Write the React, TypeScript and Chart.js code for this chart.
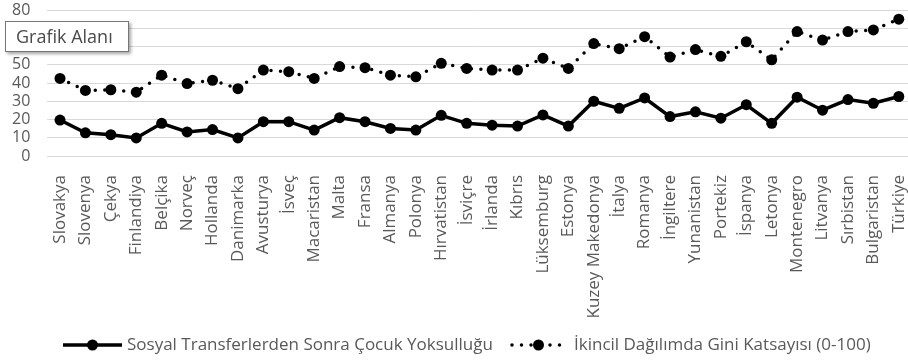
import React, { useEffect, useRef } from "react";
import { Chart, registerables } from "chart.js";

Chart.register(...registerables);

const countries = [
  "Slovakya", "Slovenya", "Çekya", "Finlandiya", "Belçika", "Norveç", "Hollanda",
  "Danimarka", "Avusturya", "İsveç", "Macaristan", "Malta", "Fransa", "Almanya",
  "Polonya", "Hırvatistan", "İsviçre", "İrlanda", "Kıbrıs", "Lüksemburg", "Estonya",
  "Kuzey Makedonya", "İtalya", "Romanya", "İngiltere", "Yunanistan", "Portekiz",
  "İspanya", "Letonya", "Montenegro", "Litvanya", "Sırbistan", "Bulgaristan", "Türkiye",
];

const childPoverty = [
  19.7, 12.7, 11.7, 9.9, 17.9, 13.2, 14.5, 9.9, 18.8, 18.8, 14.2, 21.0, 18.8, 15.1,
  14.2, 22.3, 17.9, 16.9, 16.4, 22.5, 16.4, 30.0, 26.1, 31.8, 21.6, 24.2, 20.7,
  28.1, 17.9, 32.2, 25.1, 30.9, 28.9, 32.6,
];

const giniSecondary = [
  42.5, 35.9, 36.3, 35.0, 44.3, 39.7, 41.5, 36.9, 47.1, 46.2, 42.5, 49.0, 48.4, 44.3,
  43.4, 50.8, 48.0, 47.1, 47.1, 53.6, 48.0, 61.6, 58.8, 65.4, 54.2, 58.3, 54.6,
  62.6, 52.7, 68.2, 63.5, 68.2, 69.1, 75.0,
];

const seriesNames = [
  "Sosyal Transferlerden Sonra Çocuk Yoksulluğu",
  "İkincil Dağılımda Gini Katsayısı (0-100)",
];

const yTicks = [0, 10, 20, 30, 40, 50, 60, 70, 80];

const FONT = "'Open Sans', sans-serif";
const TEXT = "#595959";
const GRID = "#d9d9d9";

// Legend drawn as line + marker samples, like a spreadsheet chart legend
const lineLegend = {
  id: "lineLegend",
  afterDraw(chart: any) {
    const ctx = chart.ctx as CanvasRenderingContext2D;
    const y = 345;
    const items = [
      { x0: 63, x1: 122, tx: 127 },
      { x0: 512, x1: 565, tx: 574 },
    ];
    chart.data.datasets.forEach((ds: any, i: number) => {
      const it = items[i];
      ctx.save();
      ctx.strokeStyle = ds.borderColor;
      ctx.lineWidth = ds.borderWidth;
      ctx.lineCap = ds.borderCapStyle || "butt";
      ctx.setLineDash(ds.borderDash || []);
      ctx.beginPath();
      ctx.moveTo(it.x0, y);
      ctx.lineTo(it.x1, y);
      ctx.stroke();
      ctx.setLineDash([]);
      ctx.fillStyle = ds.pointBackgroundColor;
      ctx.beginPath();
      ctx.arc((it.x0 + it.x1) / 2, y, ds.pointRadius, 0, Math.PI * 2);
      ctx.fill();
      ctx.fillStyle = TEXT;
      ctx.font = `17px ${FONT}`;
      ctx.textBaseline = "middle";
      ctx.textAlign = "left";
      ctx.fillText(ds.label, it.tx, y);
      ctx.restore();
    });
  },
};

export default function App() {
  const canvasRef = useRef<HTMLCanvasElement | null>(null);

  useEffect(() => {
    document.body.style.margin = "0";
    const canvas = canvasRef.current;
    if (!canvas) return;
    const chart = new Chart(canvas, {
      type: "line",
      data: {
        labels: countries,
        datasets: [
          {
            label: seriesNames[0],
            data: childPoverty,
            borderColor: "#000000",
            borderWidth: 3.5,
            pointRadius: 5.5,
            pointBackgroundColor: "#000000",
            pointBorderColor: "#000000",
            pointBorderWidth: 0,
            tension: 0,
          },
          {
            label: seriesNames[1],
            data: giniSecondary,
            borderColor: "#000000",
            borderWidth: 3.5,
            borderDash: [0, 9.5],
            borderCapStyle: "round",
            pointRadius: 5.5,
            pointBackgroundColor: "#000000",
            pointBorderColor: "#000000",
            pointBorderWidth: 0,
            tension: 0,
          },
        ],
      },
      options: {
        animation: false,
        responsive: false,
        maintainAspectRatio: false,
        layout: { padding: { top: 10, left: 0, right: 1, bottom: 0 } },
        plugins: {
          legend: { display: false },
          tooltip: { enabled: false },
        },
        scales: {
          x: {
            offset: true,
            grid: { display: false, drawTicks: false },
            border: { display: true, color: GRID, width: 1 },
            ticks: {
              autoSkip: false,
              minRotation: 90,
              maxRotation: 90,
              padding: 19,
              color: TEXT,
              font: { family: FONT, size: 17 },
            },
            afterFit(scale: any) {
              scale.height = 360 - 156;
              scale.paddingLeft = 0;
              scale.paddingRight = 0;
            },
          },
          y: {
            min: 0,
            max: 80,
            afterBuildTicks(scale: any) {
              scale.ticks = yTicks.map((v) => ({ value: v }));
            },
            grid: { color: GRID, lineWidth: 1, drawTicks: false },
            border: { display: false },
            ticks: {
              autoSkip: false,
              padding: 17,
              color: TEXT,
              font: { family: FONT, size: 16 },
            },
            afterFit(scale: any) {
              scale.width = 47.3;
              scale.paddingTop = 0;
              scale.paddingBottom = 0;
            },
          },
        },
      },
      plugins: [lineLegend],
    });
    return () => chart.destroy();
  }, []);

  return (
    <div
      style={{
        position: "fixed",
        left: 0,
        top: 0,
        width: 908,
        height: 360,
        overflow: "hidden",
        background: "#ffffff",
      }}
    >
      <canvas ref={canvasRef} width={917} height={360} style={{ display: "block" }} />
      <div
        style={{
          position: "absolute",
          left: 5,
          top: 21,
          width: 112,
          height: 29,
          border: "1px solid #767676",
          background: "#ffffff",
          boxShadow: "2px 2px 3px rgba(0,0,0,0.35)",
          fontFamily: FONT,
          fontSize: 18,
          lineHeight: "29px",
          color: "#4a4a4a",
          paddingLeft: 10,
          boxSizing: "content-box",
          whiteSpace: "nowrap",
        }}
      >
        Grafik Alanı
      </div>
    </div>
  );
}
